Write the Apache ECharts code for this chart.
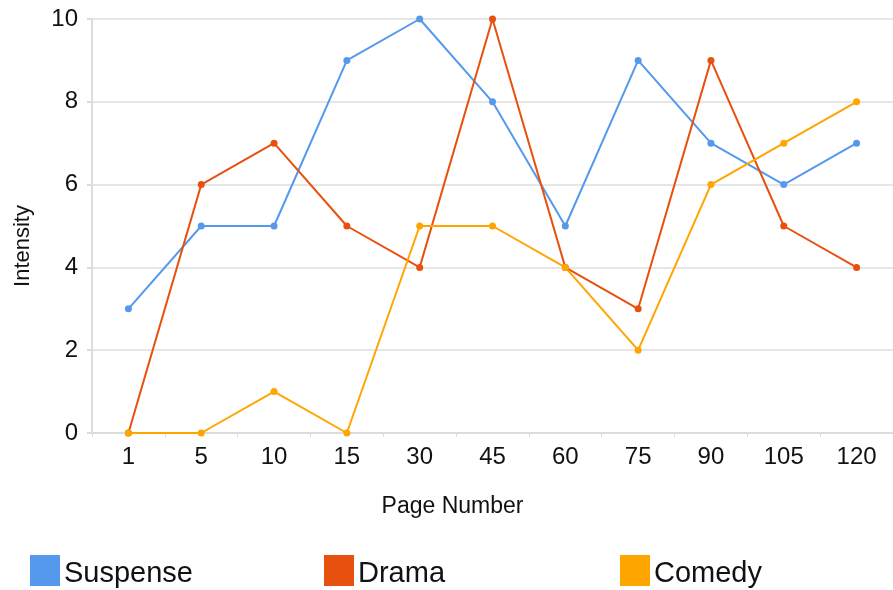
<!DOCTYPE html>
<html style="height: 100%">
<head>
    <meta charset="utf-8">
    <script src="https://cdn.jsdelivr.net/npm/echarts@6/dist/echarts.min.js"></script>
    <title>Intensity by page</title>
</head>
<body style="height: 100%; margin: 0; background: #fff">
<div id="container" style="width: 893px; height: 590px"></div>
<script type="text/javascript">

    let pages = ['1', '5', '10', '15', '30', '45', '60', '75', '90', '105', '120']
    let suspense = [3, 5, 5, 9, 10, 8, 5, 9, 7, 6, 7]
    let drama = [0, 6, 7, 5, 4, 10, 4, 3, 9, 5, 4]
    let comedy = [0, 0, 1, 0, 5, 5, 4, 2, 6, 7, 8]

    let colors = ['#5599ec', '#e8500f', '#ffa500']
    let font = 'Liberation Sans, Arial, sans-serif'

    // one legend per entry so each can sit at its own spot
    function legendAt(name, left) {
        return {
            data: [name],
            left: left,
            top: 555,
            padding: 0,
            icon: 'rect',
            itemWidth: 30,
            itemHeight: 31,
            itemGap: 0,
            formatter: '{t|{name}}',
            textStyle: {
                fontSize: 29, color: '#111', fontFamily: font, padding: [0, 0, 0, -1],
                rich: {t: {fontSize: 29, color: '#111', fontFamily: font, padding: [7, 0, 0, 0]}}
            }
        }
    }

    function line(name, values, color) {
        return {
            name: name,
            type: 'line',
            data: values,
            symbol: 'circle',
            symbolSize: 7,
            lineStyle: {width: 2, color: color},
            itemStyle: {color: color}
        }
    }

    let dom = document.getElementById("container")
    let chart = echarts.init(dom)
    chart.setOption({
        animation: false,
        color: colors,
        grid: {left: 92, right: 0, top: 19, bottom: 157},
        legend: [
            legendAt('Suspense', 30),
            legendAt('Drama', 324),
            legendAt('Comedy', 620)
        ],
        xAxis: {
            type: 'category',
            data: pages,
            name: 'Page Number',
            nameLocation: 'middle',
            nameGap: 62,
            nameTextStyle: {fontSize: 23, color: '#111', fontFamily: font, padding: [0, 80, 0, 0]},
            axisLine: {lineStyle: {color: '#dcdcdc', width: 2}},
            axisTick: {show: true, length: 4, lineStyle: {color: '#dcdcdc'}},
            axisLabel: {fontSize: 24, color: '#111', fontFamily: font, margin: 12}
        },
        yAxis: {
            type: 'value',
            min: 0,
            max: 10,
            interval: 2,
            name: 'Intensity',
            nameLocation: 'middle',
            nameGap: 58,
            nameTextStyle: {fontSize: 22, color: '#111', fontFamily: font, padding: [0, 40, 0, 0]},
            axisLine: {show: true, lineStyle: {color: '#dcdcdc', width: 2}},
            axisTick: {show: true, length: 5, lineStyle: {color: '#dcdcdc', width: 2}},
            axisLabel: {fontSize: 24, color: '#111', fontFamily: font, margin: 14},
            splitLine: {lineStyle: {color: '#e6e6e6', width: 2}}
        },
        series: [
            line('Suspense', suspense, colors[0]),
            line('Drama', drama, colors[1]),
            line('Comedy', comedy, colors[2])
        ]
    })

</script>
</body>
</html>
